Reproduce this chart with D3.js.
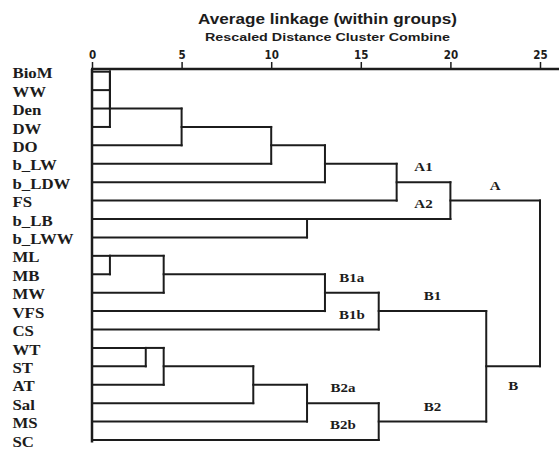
<!DOCTYPE html>
<html>
<head>
<meta charset="utf-8">
<script src="https://cdn.jsdelivr.net/npm/d3@7/dist/d3.min.js"></script>
<style>
  html, body { margin: 0; padding: 0; background: #fff; }
  svg { display: block; }
</style>
</head>
<body>
<svg id="chart" width="559" height="449"></svg>
<script>
// leaves, top to bottom
const leaves = ["BioM", "WW", "Den", "DW", "DO", "b_LW", "b_LDW", "FS", "b_LB", "b_LWW",
  "ML", "MB", "MW", "VFS", "CS", "WT", "ST", "AT", "Sal", "MS", "SC"];

// agglomeration schedule: [id, upper cluster, lower cluster, rescaled distance]
const merges = [
  ["m1", "BioM", "WW", 1],
  ["m2", "m1", "Den", 1],
  ["m3", "m2", "DW", 1],
  ["m4", "m3", "DO", 5],
  ["m5", "m4", "b_LW", 10],
  ["m6", "m5", "b_LDW", 13],
  ["m7", "m6", "FS", 17],
  ["m8", "b_LB", "b_LWW", 12],
  ["m9", "m7", "m8", 20],
  ["m10", "ML", "MB", 1],
  ["m11", "m10", "MW", 4],
  ["m12", "m11", "VFS", 13],
  ["m13", "m12", "CS", 16],
  ["m14", "WT", "ST", 3],
  ["m15", "m14", "AT", 4],
  ["m16", "m15", "Sal", 9],
  ["m17", "m16", "MS", 12],
  ["m18", "m17", "SC", 16],
  ["m19", "m13", "m18", 22],
  ["m20", "m9", "m19", 25]
];

// group labels: [text, cluster, side of its line]
const groupLabels = [
  ["A1", "m7", "above"], ["A2", "m8", "above"], ["A", "m9", "above"], ["B", "m19", "below"],
  ["B1a", "m12", "above"], ["B1b", "CS", "above"], ["B1", "m13", "above"],
  ["B2a", "m17", "above"], ["B2b", "SC", "above"], ["B2", "m18", "above"]
];

const tickValues = [0, 5, 10, 15, 20, 25];
const title = "Average linkage (within groups)";
const subtitle = "Rescaled Distance Cluster Combine";

const width = 559, height = 449;
const ink = "#1c1c1c";
const svg = d3.select("#chart");

const x = d3.scaleLinear().domain([0, 25]).range([92, 540]);
const y = d3.scaleLinear().domain([0, leaves.length - 1]).range([71.7, 440]);

// cluster positions: row where the cluster's line leaves, and its height
const nodes = new Map();
leaves.forEach((name, i) => nodes.set(name, { row: i, h: 0 }));
const links = [];
merges.forEach(([id, a, b, h]) => {
  const na = nodes.get(a), nb = nodes.get(b);
  nodes.set(id, { row: Math.floor((na.row + nb.row) / 2), h });
  Object.assign(na, { parent: id, sibling: b, upper: true });
  Object.assign(nb, { parent: id, sibling: a, upper: false });
  links.push({ x1: na.h, x2: h, r1: na.row, r2: na.row });
  links.push({ x1: nb.h, x2: h, r1: nb.row, r2: nb.row });
  links.push({ x1: h, x2: h, r1: na.row, r2: nb.row });
});

// titles
svg.append("text")
  .attr("x", 327.5).attr("y", 23.5)
  .attr("text-anchor", "middle")
  .attr("font-family", "'Liberation Sans', Arial, sans-serif")
  .attr("font-weight", "bold").attr("font-size", 15)
  .attr("textLength", 259).attr("lengthAdjust", "spacingAndGlyphs")
  .attr("fill", ink)
  .text(title);

svg.append("text")
  .attr("x", 327.5).attr("y", 40.5)
  .attr("text-anchor", "middle")
  .attr("font-family", "'Liberation Sans', Arial, sans-serif")
  .attr("font-weight", "bold").attr("font-size", 11)
  .attr("textLength", 245).attr("lengthAdjust", "spacingAndGlyphs")
  .attr("fill", ink)
  .text(subtitle);

// top axis
const axisY = 69;
const gx = svg.append("g").attr("transform", `translate(0,${axisY})`)
  .call(d3.axisTop(x).tickValues(tickValues).tickSize(7).tickSizeOuter(0).tickPadding(3));
gx.select(".domain").remove();
gx.selectAll("line").attr("stroke", ink).attr("stroke-width", 1.5);
gx.selectAll("text")
  .attr("fill", ink)
  .attr("font-family", "'Liberation Sans Narrow', 'DejaVu Sans Condensed', sans-serif")
  .attr("font-weight", "bold")
  .attr("font-size", 11.5);
gx.append("line")
  .attr("x1", x(0) - 1).attr("x2", width)
  .attr("stroke", ink).attr("stroke-width", 2.5);

// baseline of the leaves
svg.append("line")
  .attr("x1", x(0)).attr("x2", x(0))
  .attr("y1", axisY).attr("y2", y(leaves.length - 1) + 2.5)
  .attr("stroke", ink).attr("stroke-width", 2.5);

// dendrogram
svg.append("g").selectAll("line").data(links).join("line")
  .attr("x1", d => x(d.x1) - (d.r1 === d.r2 ? 1 : 0))
  .attr("x2", d => x(d.x2) + (d.r1 === d.r2 ? 1 : 0))
  .attr("y1", d => y(d.r1) - (d.r1 === d.r2 ? 0 : 1))
  .attr("y2", d => y(d.r2) + (d.r1 === d.r2 ? 0 : 1))
  .attr("stroke", ink).attr("stroke-width", 2);

// leaf names
svg.append("g").selectAll("text").data(leaves).join("text")
  .attr("transform", (d, i) => `translate(12.5,${y(i) + 6.6}) scale(1.2,1)`)
  .attr("font-family", "'Liberation Serif', 'Times New Roman', serif")
  .attr("font-weight", "bold").attr("font-size", 14)
  .attr("fill", ink)
  .text(d => d);

// group labels
svg.append("g").selectAll("text").data(groupLabels).join("text")
  .attr("transform", ([, id, side]) => {
    const n = nodes.get(id), p = nodes.get(n.parent), s = nodes.get(n.sibling);
    const ref = n.upper ? n.h : Math.max(n.h, s.h);
    const lx = x((ref + p.h) / 2);
    const ly = y(n.row) + (side === "above" ? -11 : 24);
    return `translate(${lx},${ly}) scale(1.2,1)`;
  })
  .attr("text-anchor", "middle")
  .attr("font-family", "'Liberation Serif', 'Times New Roman', serif")
  .attr("font-weight", "bold").attr("font-size", 12.5)
  .attr("fill", ink)
  .text(d => d[0]);
</script>
</body>
</html>
